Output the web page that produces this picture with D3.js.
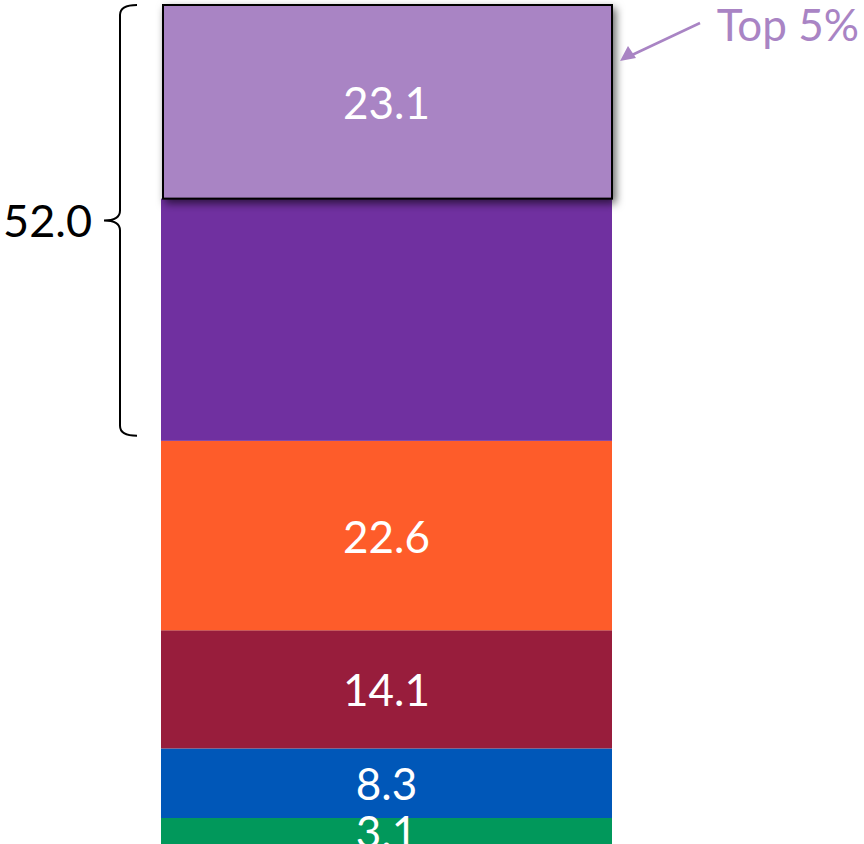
<!DOCTYPE html>
<html><head><meta charset="utf-8">
<script src="https://cdn.jsdelivr.net/npm/d3@7"></script>
<style>html,body{margin:0;padding:0;background:#fff;overflow:hidden}</style>
</head><body>
<svg id="chart" width="864" height="844"></svg>
<script>
const groups = ["Bottom 20%", "Second 20%", "Third 20%", "Fourth 20%", "Next 15%", "Top 5%"];
const values = [3.1, 8.3, 14.1, 22.6, 28.9, 23.1];
const showLabel = [true, true, true, true, false, true];
const colors = ["#01985b", "#0057b8", "#981d3c", "#fe5c2a", "#7030a0", "#a984c4"];
const bracketLabel = "52.0";
const calloutLabel = "Top 5%";

const svg = d3.select("#chart");
const total = d3.sum(values);
const y = d3.scaleLinear().domain([0, total]).range([844, 5]);
const x = d3.scaleBand().domain(["all"]).range([161, 612]).padding(0);

const defs = svg.append("defs");
const f = defs.append("filter").attr("id","sh").attr("x","-10%").attr("y","-10%").attr("width","130%").attr("height","130%");
f.append("feDropShadow").attr("dx",3).attr("dy",4).attr("stdDeviation",4).attr("flood-color","#000").attr("flood-opacity",0.6);

let cum = 0;
const segs = values.map((v,i)=>{const s={i,v,y0:cum,y1:cum+v}; cum+=v; return s;});

const font = "Lato, 'Open Sans', sans-serif";
segs.forEach(s=>{
  const top = s.i === values.length-1;
  svg.append("rect")
    .attr("x", top ? x("all")+2 : x("all"))
    .attr("y", y(s.y1))
    .attr("width", top ? x.bandwidth()-2 : x.bandwidth())
    .attr("height", y(s.y0)-y(s.y1))
    .attr("fill", colors[s.i])
    .attr("stroke", top ? "#000" : "none")
    .attr("stroke-width", top ? 2 : 0)
    .attr("filter", top ? "url(#sh)" : null);
});
segs.forEach(s=>{
  if(!showLabel[s.i]) return;
  svg.append("text")
    .attr("x", x("all")+x.bandwidth()/2)
    .attr("y", (y(s.y0)+y(s.y1))/2)
    .attr("text-anchor","middle")
    .attr("dominant-baseline","central")
    .attr("fill","#fff")
    .attr("font-family",font)
    .attr("font-size",44)
    .text(d3.format(".1f")(s.v));
});

// Bracket over top two groups
const bTop = y(total), bBot = y(total - values[4] - values[5]) - 5;
const bMid = (bTop + bBot)/2;
const bx = 120, hx = 137, tx = 104;
svg.append("path")
  .attr("d", `M${hx},${bTop} Q${bx},${bTop} ${bx},${bTop+10} L${bx},${bMid-10} Q${bx},${bMid} ${tx},${bMid} Q${bx},${bMid} ${bx},${bMid+10} L${bx},${bBot-10} Q${bx},${bBot} ${hx},${bBot}`)
  .attr("fill","none").attr("stroke","#000").attr("stroke-width",2);
svg.append("text")
  .attr("x", 92).attr("y", bMid)
  .attr("text-anchor","end").attr("dominant-baseline","central")
  .attr("font-family",font).attr("font-size",45).attr("fill","#000")
  .text(bracketLabel);

// Callout
const cCol = "#a984c4";
svg.append("text")
  .attr("x", 859).attr("y", 24)
  .attr("text-anchor","end").attr("dominant-baseline","central")
  .attr("font-family",font).attr("font-size",44).attr("fill",cCol)
  .text(calloutLabel);
svg.append("line").attr("x1",700).attr("y1",23).attr("x2",632).attr("y2",55)
  .attr("stroke",cCol).attr("stroke-width",2.5);
svg.append("path").attr("d","M620,61 L628,46 L636,58 Z").attr("fill",cCol);
</script>
</body></html>
